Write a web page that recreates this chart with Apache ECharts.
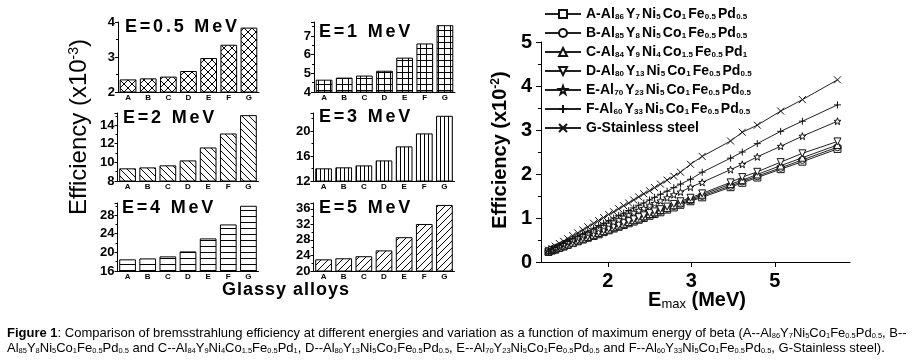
<!DOCTYPE html>
<html><head><meta charset="utf-8">
<script src="https://cdn.jsdelivr.net/npm/echarts@6.0.0/dist/echarts.min.js"></script>
<style>html,body{margin:0;padding:0;background:#fff;}#c{width:923px;height:360px;}</style>
</head><body><div id="c"></div>
<script>
// ---------- data ----------
const alloys = ['A','B','C','D','E','F','G'];
const panelTitles = ['E=0.5 MeV','E=1 MeV','E=2 MeV','E=3 MeV','E=4 MeV','E=5 MeV'];
const eff05 = [2.36,2.39,2.44,2.60,2.97,3.35,3.84];
const eff1  = [4.66,4.77,4.88,5.14,5.84,6.60,7.58];
const eff2  = [9.36,9.46,9.68,10.21,11.60,13.10,15.07];
const eff3  = [14.03,14.19,14.50,15.30,17.55,19.63,22.45];
const eff4  = [18.5,18.7,19.14,20.2,23.0,26.0,30.0];
const eff5  = [23.0,23.27,23.8,25.3,28.7,32.1,37.0];
const panelMin = [2,4,8,12,16,20];
const panelMax = [4,7.75,15.3,22.9,30.6,37.5];
const panelStep = [1,1,2,4,4,4];

const emaxPos = [1.29,1.33,1.37,1.42,1.47,1.52,1.58,1.64,1.70,1.76,1.83,1.89,1.95,2.01,2.07,2.13,2.19,2.25,2.31,2.37,2.43,2.50,2.56,2.63,2.71,2.79,2.87,2.99,3.13,3.47,3.61,3.79,4.07,4.33,4.75];
const xTickPos = [2,3,4];
const xTickLabels = ['2','3','5'];
const serA = [0.23,0.26,0.28,0.32,0.35,0.39,0.43,0.47,0.51,0.55,0.59,0.63,0.68,0.72,0.76,0.80,0.84,0.88,0.92,0.96,1.00,1.05,1.09,1.13,1.19,1.24,1.30,1.38,1.47,1.70,1.80,1.92,2.11,2.28,2.57];
const serB = [0.24,0.27,0.29,0.33,0.36,0.40,0.44,0.48,0.52,0.56,0.61,0.65,0.69,0.73,0.77,0.82,0.86,0.90,0.94,0.98,1.02,1.07,1.11,1.16,1.21,1.27,1.32,1.40,1.50,1.73,1.83,1.95,2.14,2.32,2.61];
const serC = [0.24,0.27,0.30,0.33,0.37,0.40,0.44,0.49,0.53,0.57,0.62,0.66,0.70,0.74,0.79,0.83,0.87,0.91,0.95,0.99,1.04,1.09,1.13,1.18,1.23,1.29,1.35,1.43,1.53,1.77,1.86,1.99,2.19,2.37,2.66];
const serD = [0.24,0.27,0.30,0.33,0.37,0.41,0.45,0.49,0.54,0.58,0.63,0.67,0.72,0.76,0.80,0.84,0.89,0.93,0.97,1.02,1.06,1.11,1.15,1.20,1.26,1.32,1.38,1.46,1.56,1.81,1.93,2.05,2.27,2.47,2.74];
const serE = [0.25,0.28,0.32,0.36,0.40,0.45,0.50,0.55,0.60,0.65,0.71,0.76,0.81,0.86,0.91,0.96,1.02,1.07,1.12,1.17,1.22,1.28,1.33,1.39,1.46,1.53,1.59,1.70,1.81,2.10,2.22,2.39,2.63,2.86,3.20];
const serF = [0.25,0.29,0.33,0.37,0.42,0.47,0.53,0.59,0.64,0.70,0.77,0.83,0.88,0.94,1.00,1.06,1.11,1.17,1.23,1.29,1.34,1.41,1.47,1.54,1.61,1.69,1.77,1.88,2.04,2.36,2.50,2.69,2.97,3.20,3.57];
const serG = [0.27,0.31,0.36,0.42,0.47,0.53,0.60,0.66,0.73,0.80,0.88,0.94,1.01,1.08,1.14,1.21,1.28,1.34,1.41,1.48,1.55,1.62,1.69,1.77,1.86,1.95,2.04,2.22,2.40,2.75,2.95,3.11,3.43,3.69,4.14];
const seriesFormulas = ['A-Al86Y7Ni5Co1Fe0.5Pd0.5','B-Al85Y8Ni5Co1Fe0.5Pd0.5','C-Al84Y9Ni4Co1.5Fe0.5Pd1','D-Al80Y13Ni5Co1Fe0.5Pd0.5','E-Al70Y23Ni5Co1Fe0.5Pd0.5','F-Al60Y33Ni5Co1Fe0.5Pd0.5','G-Stainless steel'];

// ---------- helpers ----------
const FF = '"Liberation Sans", Arial, sans-serif';
function chem(str, b, s){
  let out = '';
  const re = /([^\d]+)|([\d.]+)/g; let m;
  while((m = re.exec(str))){
    if(m[1]) out += '{'+b+'|'+m[1]+'}';
    else out += '{'+s+'|'+m[2]+'}';
  }
  return out;
}
function spaced(text, st){ return text.split('').map(c=>'{'+st+'|'+c+'}').join(''); }
function pat(kind, s){
  const c = document.createElement('canvas'); c.width=s; c.height=s;
  const g = c.getContext('2d'); g.fillStyle='#fff'; g.fillRect(0,0,s,s);
  g.strokeStyle='#000'; g.lineWidth=1; g.beginPath();
  if(kind==='cross'||kind==='back'){ g.moveTo(0,0); g.lineTo(s,s); g.moveTo(-1,s-1); g.lineTo(1,s+1); g.moveTo(s-1,-1); g.lineTo(s+1,1);}
  if(kind==='cross'||kind==='fwd'){ g.moveTo(s,0); g.lineTo(0,s); g.moveTo(-1,1); g.lineTo(1,-1); g.moveTo(s-1,s+1); g.lineTo(s+1,s-1);}
  if(kind==='grid'||kind==='vert'){ g.moveTo(0.5,0); g.lineTo(0.5,s);}
  if(kind==='grid'||kind==='horiz'){ g.moveTo(0,0.5); g.lineTo(s,0.5);}
  g.stroke();
  return {image:c, repeat:'repeat'};
}
const patterns = [pat('cross',8), pat('grid',6), pat('back',7), pat('vert',4), pat('horiz',6), pat('fwd',7)];
const panelData = [eff05, eff1, eff2, eff3, eff4, eff5];
const gridPos = [
  {left:118, top:22, width:141, height:70},
  {left:314, top:22, width:141, height:70},
  {left:117.5, top:113, width:141, height:68},
  {left:313.5, top:113, width:141, height:68},
  {left:117.5, top:203, width:141, height:68},
  {left:313.5, top:203, width:141, height:68}
];
const grids = gridPos.map(g=>Object.assign({containLabel:false}, g));
grids.push({left:541, top:42, width:309, height:220});

const xAxes = [], yAxes = [], series = [];
for(let i=0;i<6;i++){
  xAxes.push({type:'category', gridIndex:i, data:alloys,
    axisLine:{show:true, lineStyle:{color:'#000', width:1}}, axisTick:{show:false},
    axisLabel:{interval:0, margin:2, fontSize:8, fontWeight:'bold', color:'#000', fontFamily:FF}});
  yAxes.push({type:'value', gridIndex:i, min:panelMin[i], max:panelMax[i], interval:panelStep[i],
    axisLine:{show:true, lineStyle:{color:'#000', width:1}},
    axisTick:{show:true, length:3, lineStyle:{color:'#000'}},
    minorTick:{show:true, splitNumber:2, length:2, lineStyle:{color:'#000'}},
    splitLine:{show:false},
    axisLabel:{showMaxLabel: panelMax[i] % panelStep[i] === 0, margin:3, fontSize:13, fontWeight:'bold', color:'#000', fontFamily:FF}});
  series.push({type:'bar', xAxisIndex:i, yAxisIndex:i, data:panelData[i], barCategoryGap:'17%', silent:true,
    itemStyle:{color:patterns[i], borderColor:'#000', borderWidth:1}});
}
xAxes.push({type:'value', gridIndex:6, min:1.2, max:4.9,
  axisLine:{show:true, onZero:false, lineStyle:{color:'#000', width:1}},
  axisTick:{show:true, customValues:xTickPos, length:5, lineStyle:{color:'#000'}},
  splitLine:{show:false},
  axisLabel:{customValues:xTickPos, formatter:v=>xTickLabels[xTickPos.indexOf(v)], margin:9, fontSize:20, fontWeight:'bold', color:'#000', fontFamily:FF}});
yAxes.push({type:'value', gridIndex:6, min:0, max:5, interval:1,
  axisLine:{show:true, lineStyle:{color:'#000', width:1}},
  axisTick:{show:true, length:5, lineStyle:{color:'#000'}},
  minorTick:{show:true, splitNumber:2, length:3, lineStyle:{color:'#000'}},
  splitLine:{show:false},
  axisLabel:{margin:9, fontSize:20, fontWeight:'bold', color:'#000', fontFamily:FF}});

const symbols = ['rect','circle','triangle','path://M0,0 L10,0 L5,10 Z',
  'path://M5,0 L6.2,3.5 L10,3.6 L7,5.9 L8.1,9.5 L5,7.4 L1.9,9.5 L3,5.9 L0,3.6 L3.8,3.5 Z',
  'path://M5,0 L5,10 M0,5 L10,5','path://M0,0 L10,10 M10,0 L0,10'];
const lineVals = [serA, serB, serC, serD, serE, serF, serG];
for(let k=0;k<7;k++){
  series.push({type:'line', name:seriesFormulas[k], xAxisIndex:6, yAxisIndex:6,
    data: emaxPos.map((x,j)=>[x, lineVals[k][j]]),
    symbol:symbols[k], symbolSize:7, showAllSymbol:true, silent:true,
    lineStyle:{color:'#222', width:1},
    itemStyle:{color:'#fff', borderColor:'#111', borderWidth:1}, z:3+k});
}

const sub = {fontSize:8, fontWeight:'bold', lineHeight:8, verticalAlign:'bottom', padding:[10,2,0,0.3], fontFamily:FF, color:'#000'};
const base14 = {fontSize:14, fontWeight:'bold', lineHeight:14, verticalAlign:'top', fontFamily:FF, color:'#000'};
const titleSt = {fontSize:18, fontWeight:'bold', lineHeight:18, fontFamily:FF, color:'#000', padding:[0,2.8,0,0]};

const cap = {
  f:{fontSize:13, lineHeight:13, verticalAlign:'top', fontFamily:FF, color:'#000'},
  fb:{fontSize:13, lineHeight:13, verticalAlign:'top', fontFamily:FF, color:'#000', fontWeight:'bold'},
  s:{fontSize:7.5, lineHeight:8, verticalAlign:'bottom', padding:[8,0,0,0], fontFamily:FF, color:'#000'}
};
const capLine1 = '{fb|Figure 1}{f|: Comparison of bremsstrahlung efficiency at different energies and variation as a function of maximum energy of beta (A--}'
  + chem('Al86Y7Ni5Co1Fe0.5Pd0.5','f','s') + '{f|, B--}';
const capLine2 = chem('Al85Y8Ni5Co1Fe0.5Pd0.5','f','s') + '{f| and C--}' + chem('Al84Y9Ni4Co1.5Fe0.5Pd1','f','s')
  + '{f|, D--}' + chem('Al80Y13Ni5Co1Fe0.5Pd0.5','f','s') + '{f|, E--}' + chem('Al70Y23Ni5Co1Fe0.5Pd0.5','f','s')
  + '{f| and F--}' + chem('Al60Y33Ni5Co1Fe0.5Pd0.5','f','s') + '{f|, G-Stainless steel).}';

const titlePos = [[125,27],[319,32],[123,118],[319,117],[122,208],[319,208]];
const graphics = titlePos.map((p,i)=>({type:'text', x:p[0], y:p[1], z:50,
  style:{text:spaced(panelTitles[i],'t'), rich:{t:titleSt}, align:'left', verticalAlign:'middle'}}));
graphics.push({type:'text', x:286, y:290, z:50,
  style:{text:spaced('Glassy alloys','g'), rich:{g:{fontSize:18, fontWeight:'bold', lineHeight:18, fontFamily:FF, color:'#000', padding:[0,1,0,0]}}, align:'center', verticalAlign:'middle'}});
graphics.push({type:'text', x:79, y:127, rotation:Math.PI/2, z:50,
  style:{text:'{e|Efficiency (x10}{p|-3}{e|)}', rich:{
    e:{fontSize:24, lineHeight:24, verticalAlign:'top', fontFamily:'"Liberation Sans Narrow", "Arial Narrow", '+FF, color:'#000'},
    p:{fontSize:14, lineHeight:6, verticalAlign:'top', fontFamily:'"Liberation Sans Narrow", "Arial Narrow", '+FF, color:'#000'}},
    align:'center', verticalAlign:'middle'}});
graphics.push({type:'text', x:500, y:150, rotation:Math.PI/2, z:50,
  style:{text:'{e|Efficiency (x10}{p|-2}{e|)}', rich:{
    e:{fontSize:20, fontWeight:'bold', lineHeight:20, verticalAlign:'top', fontFamily:FF, color:'#000'},
    p:{fontSize:12, fontWeight:'bold', lineHeight:6, verticalAlign:'top', fontFamily:FF, color:'#000'}},
    align:'center', verticalAlign:'middle'}});
graphics.push({type:'text', x:697, y:300.5, z:50,
  style:{text:'{e|E}{m|max}{e| (MeV)}', rich:{
    e:{fontSize:20, fontWeight:'bold', lineHeight:20, verticalAlign:'top', fontFamily:FF, color:'#000'},
    m:{fontSize:13, lineHeight:13, verticalAlign:'bottom', padding:[11,0,0,0], fontFamily:FF, color:'#000'}},
    align:'center', verticalAlign:'middle'}});
graphics.push({type:'text', x:7, y:333, z:50, style:{text:capLine1, rich:cap, align:'left', verticalAlign:'middle'}});
graphics.push({type:'text', x:7, y:348, z:50, style:{text:capLine2, rich:cap, align:'left', verticalAlign:'middle'}});

const chart = echarts.init(document.getElementById('c'), null, {renderer:'canvas'});
chart.setOption({
  animation:false,
  backgroundColor:'#fff',
  grid:grids, xAxis:xAxes, yAxis:yAxes, series:series,
  legend:{orient:'vertical', left:539, top:-2, itemGap:1, itemWidth:36, itemHeight:10,
    data:seriesFormulas, selectedMode:false, z:20,
    formatter:name=>name.startsWith('G-') ? '{b|'+name+'}{s| }' : chem(name,'b','s'),
    textStyle:{rich:{b:base14, s:sub}, fontFamily:FF, color:'#000'}},
  graphic:graphics
});
</script></body></html>
